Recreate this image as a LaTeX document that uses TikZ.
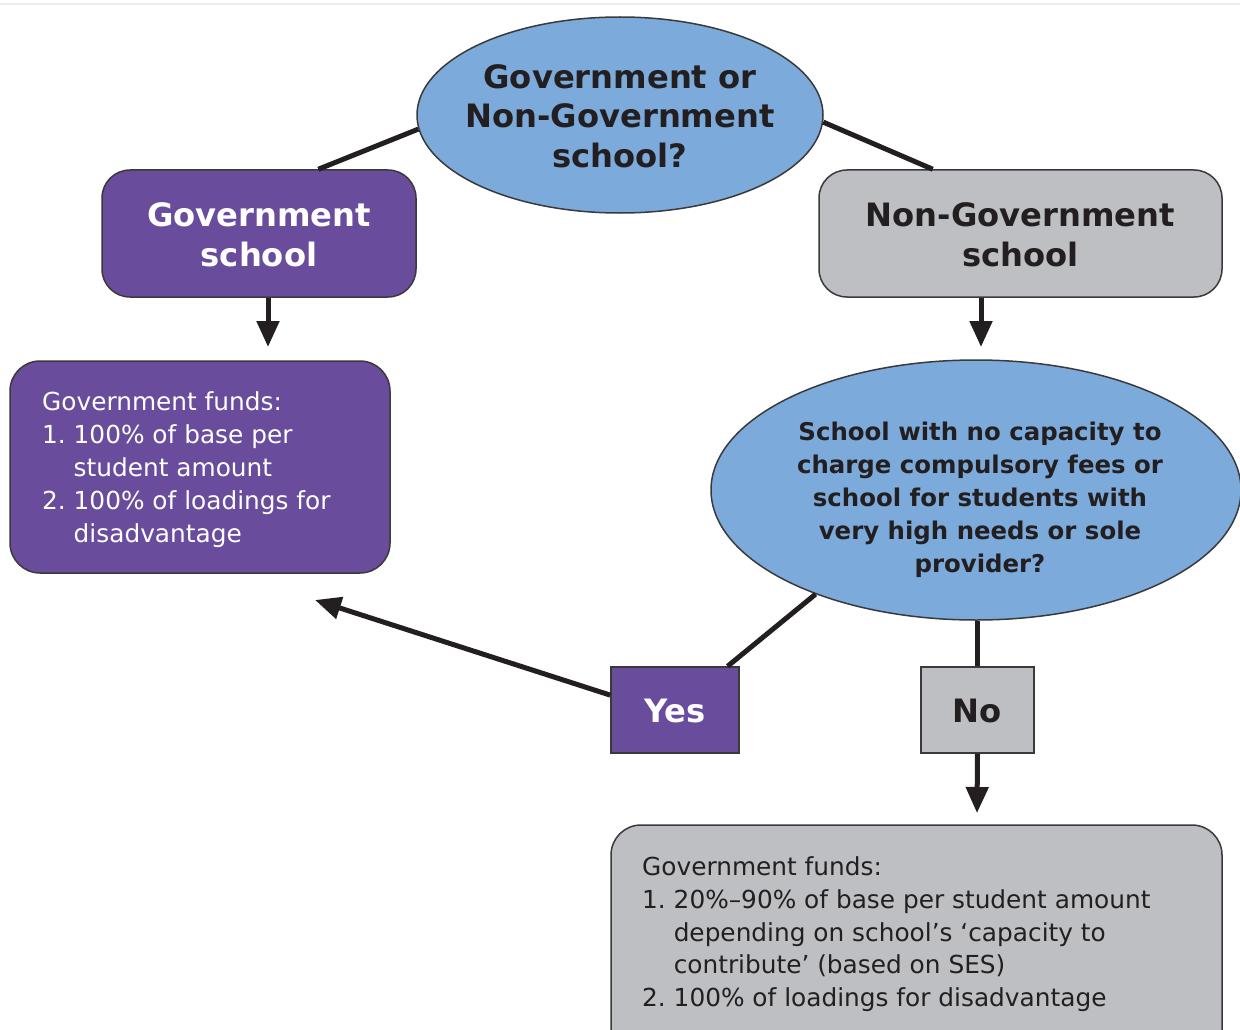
\documentclass[tikz,border=0pt]{standalone}
\usepackage{fontspec}
\setmainfont{DejaVu Sans}
\usetikzlibrary{shapes.geometric,arrows.meta,calc}
\definecolor{purp}{HTML}{6A4C9C}
\definecolor{lblue}{HTML}{7BAADB}
\definecolor{lgray}{HTML}{BEBFC2}
\definecolor{edgec}{HTML}{3A3A3A}
\definecolor{ink}{HTML}{231F20}
\newcommand\fbig{\fontsize{32.2}{39.5}\selectfont\bfseries}
\newcommand\fmid{\fontsize{24.4}{33}\selectfont\bfseries}
\newcommand\freg{\fontsize{24.8}{32.8}\selectfont}
\tikzset{
  qell/.style={ellipse, draw=edgec, line width=1.5pt, fill=lblue, inner sep=0pt},
  pbox/.style={rectangle, rounded corners=28pt, draw=edgec, line width=1.5pt, fill=purp, inner sep=0pt},
  gbox/.style={rectangle, rounded corners=28pt, draw=edgec, line width=1.5pt, fill=lgray, inner sep=0pt},
  psq/.style={rectangle, draw=edgec, line width=1.5pt, fill=purp, inner sep=0pt},
  gsq/.style={rectangle, draw=edgec, line width=1.5pt, fill=lgray, inner sep=0pt},
  conn/.style={line width=5pt, draw=ink},
  arr/.style={line width=5pt, draw=ink, -{Triangle[length=26pt,width=22pt]}},
  txt/.style={inner sep=0pt, align=center}
}
\begin{document}
\begin{tikzpicture}[x=1pt,y=-1pt]
\useasboundingbox (0,0) rectangle (1240,1030);
\clip (0,0) rectangle (1240,1030);
\fill[white] (0,0) rectangle (1240,1030);
\draw[line width=2pt, draw=black!7] (0,4) -- (1240,4);

% top question
\node[qell, minimum width=406pt, minimum height=196pt] (q1) at (620,115) {};
\node[txt, font=\fbig, text=ink] (q1t) at (620,116) {Government or\\Non-Government\\school?};

% government school
\node[pbox, minimum width=314pt, minimum height=127pt] (gov) at (259,233.5) {};
\node[txt, font=\fbig, text=white] (govt) at (259,235) {Government\\school};

% non-government school
\node[gbox, minimum width=403pt, minimum height=127pt] (ngov) at (1020.5,233.5) {};
\node[txt, font=\fbig, text=ink] (ngovt) at (1020.5,235) {Non-Government\\school};

% government funds box
\node[pbox, rounded corners=30pt, minimum width=380pt, minimum height=212pt] (f1) at (200,467) {};
\node[inner sep=0pt, anchor=west, font=\freg, text=white] (f1t) at (42,470) {%
\begin{tabular}{@{}l@{\ }l@{}}
\multicolumn{2}{@{}l@{}}{Government funds:}\\
1. & 100\% of base per\\
   & student amount\\
2. & 100\% of loadings for\\
   & disadvantage
\end{tabular}};

% second question
\node[qell, minimum width=530pt, minimum height=260pt] (q2) at (976,490) {};
\node[txt, font=\fmid, text=ink] (q2t) at (980,500) {School with no capacity to\\charge compulsory fees or\\school for students with\\very high needs or sole\\provider?};

% yes / no
\node[psq, minimum width=128pt, minimum height=86pt] (yes) at (675,710) {};
\node[txt, font=\fbig, text=white] (yest) at (675,711) {Yes};
\node[gsq, minimum width=113pt, minimum height=86pt] (no) at (977.5,710) {};
\node[txt, font=\fbig, text=ink] (not) at (977.5,711) {No};

% bottom funds box
\node[gbox, rounded corners=30pt, minimum width=611pt, minimum height=240pt] (f2) at (916.5,945) {};
\node[inner sep=0pt, anchor=west, font=\freg, text=ink] (f2t) at (642,934.5) {%
\begin{tabular}{@{}l@{\ }l@{}}
\multicolumn{2}{@{}l@{}}{Government funds:}\\
1. & 20\%–90\% of base per student amount\\
   & depending on school’s ‘capacity to\\
   & contribute’ (based on SES)\\
2. & 100\% of loadings for disadvantage
\end{tabular}};

% arrow end points
\coordinate (a1) at (268,347);
\coordinate (a2) at (981,347);
\coordinate (a3) at (315,600);
\coordinate (a4) at (977,813);

% connectors
\draw[conn] (q1.184) -- ($(gov.north west)!0.688!(gov.north east)$);
\draw[conn] (q1.-2) -- ($(ngov.north west)!0.283!(ngov.north east)$);
\draw[arr] (gov.south -| a1) -- (a1);
\draw[arr] (ngov.south -| a2) -- (a2);
\draw[conn] (q2.213.6) -- ($(yes.north west)!0.906!(yes.north east)$);
\draw[arr] ($(yes.north west)!0.33!(yes.south west)$) -- (a3);
\draw[conn] (q2.south -| no.north) -- (no.north);
\draw[arr] (no.south) -- (a4);
\end{tikzpicture}
\end{document}
